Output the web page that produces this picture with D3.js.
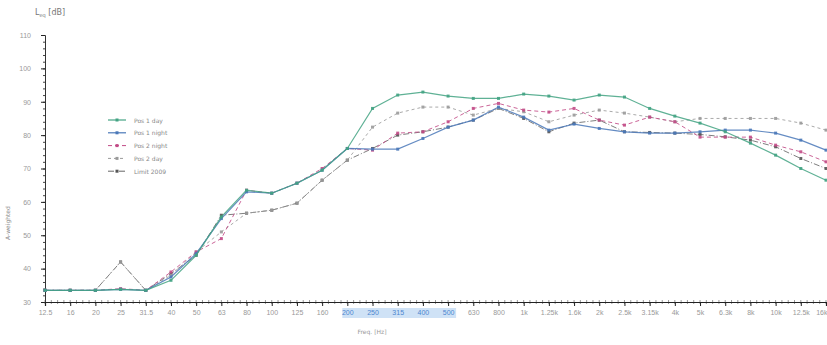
<!DOCTYPE html>
<html>
<head>
<meta charset="utf-8">
<script src="https://cdn.jsdelivr.net/npm/d3@7"></script>
<style>
  body { margin: 0; background: #fff; }
  svg { display: block; font-family: "DejaVu Sans", sans-serif; }
</style>
</head>
<body>
<div id="chart"></div>
<script>
// third-octave bands and their tick labels
const bands = ["12.5","16","20","25","31.5","40","50","63","80","100","125","160","200","250","315","400","500","630","800","1k","1.25k","1.6k","2k","2.5k","3.15k","4k","5k","6.3k","8k","10k","12.5k","16k"];
const highlightedBands = ["200","250","315","400","500"];
const yTicks = [30, 40, 50, 60, 70, 80, 90, 100, 110];

// levels in dB
const pos1Day   = [33.5,33.5,33.5,33.8,33.5,36.5,44,55.5,63.5,62.6,65.6,69.5,76,88,92,92.9,91.7,91,91,92.3,91.7,90.5,92,91.4,88,85.7,83.6,81,77.6,74,70,66.5];
const pos1Night = [33.5,33.5,33.5,33.8,33.5,37.5,44.5,55,63,62.6,65.6,69.5,76,75.8,75.8,79,82.4,84.5,88.4,85.4,81.5,83.3,82,81,80.6,80.6,81,81.5,81.5,80.6,78.5,75.5];
const pos2Night = [33.5,33.5,33.5,34,33.5,39,45,49,63.5,62.6,65.6,70,76,75.5,80.6,81,84,88,89.5,87.5,86.9,88,84.5,83,85.4,84,79.4,79.4,79.4,77,75,72];
const pos2Day   = [33.5,33.5,33.5,42,33.5,38,45,51,56.6,57.5,59.6,66.5,72.5,82.4,86.6,88.4,88.4,86,88,87,84,86,87.5,86.6,85.4,84,85,85,85,85,83.6,81.5];
const limit2009 = [33.5,33.5,33.5,42,33.5,38.5,44,56,56.6,57.5,59.6,66.5,72.5,76,80,81,82.4,84.5,88,85,81,83.6,84.5,81,80.8,80.6,80.2,79.5,78.5,76.5,73,70];

const seriesNames = ["Pos 1 day", "Pos 1 night", "Pos 2 night", "Pos 2 day", "Limit 2009"];

const width = 827, height = 345;
const svg = d3.select("#chart").append("svg")
  .attr("width", width)
  .attr("height", height);

const x = d3.scalePoint().domain(bands).range([45, 826]);
const y = d3.scaleLinear().domain([30, 110]).range([302, 35]);

// axis title
svg.append("text")
  .attr("x", 35).attr("y", 15)
  .attr("font-size", 8).attr("fill", "#777")
  .call(t => {
    t.append("tspan").text("L");
    t.append("tspan").attr("font-size", 5).attr("dy", 2).text("eq");
    t.append("tspan").attr("dy", -2).text(" [dB]");
  });

svg.append("text")
  .attr("transform", "translate(10,240) rotate(-90)")
  .attr("font-size", 6).attr("fill", "#888")
  .text("A-weighted");

// y axis with minor ticks
const yMinor = d3.range(30, 111, 2);
svg.append("g")
  .attr("transform", "translate(45,0)")
  .call(d3.axisLeft(y).tickValues(yMinor).tickSize(2).tickFormat(""))
  .call(g => g.select(".domain").attr("stroke", "#333"))
  .call(g => g.selectAll(".tick line").attr("stroke", "#444"));

svg.append("g")
  .attr("transform", "translate(45,0)")
  .call(d3.axisLeft(y).tickValues(yTicks).tickSize(4).tickPadding(10))
  .call(g => g.select(".domain").remove())
  .call(g => g.selectAll(".tick line").attr("stroke", "#222"))
  .call(g => g.selectAll(".tick text").attr("fill", "#999").attr("font-size", 7));

// highlighted tick labels
const hx0 = x(highlightedBands[0]) - 5, hx1 = x(highlightedBands[highlightedBands.length - 1]) + 8;
svg.append("rect")
  .attr("x", hx0).attr("y", 308)
  .attr("width", hx1 - hx0).attr("height", 10)
  .attr("fill", "#cfe2f6");

// x axis with minor ticks
const step = x.step();
const xMinor = d3.range(45, 827, step / 4);
svg.append("g")
  .selectAll("line").data(xMinor).join("line")
  .attr("x1", d => d).attr("x2", d => d)
  .attr("y1", 300).attr("y2", 304)
  .attr("stroke", "#555").attr("stroke-width", 0.6);

svg.append("g")
  .attr("transform", "translate(0,302)")
  .call(d3.axisBottom(x).tickSize(4).tickPadding(4))
  .call(g => g.select(".domain").attr("stroke", "#222").attr("stroke-width", 1.2))
  .call(g => g.selectAll(".tick line").attr("stroke", "#222"))
  .call(g => g.selectAll(".tick text")
    .attr("font-size", 7)
    .attr("fill", d => highlightedBands.includes(d) ? "#4d86cf" : "#999")
    .attr("text-anchor", d => d === bands[bands.length - 1] ? "end" : "middle")
    .attr("dx", d => d === bands[bands.length - 1] ? 1 : 0));

svg.append("text")
  .attr("x", 372).attr("y", 334)
  .attr("font-size", 6).attr("fill", "#999")
  .attr("text-anchor", "middle")
  .text("Freq.  [Hz]");

// series
const series = [
  { name: seriesNames[0], values: pos1Day,   color: "#43a383", dash: null,      width: 1.2 },
  { name: seriesNames[1], values: pos1Night, color: "#4a78b8", dash: null,      width: 1.2 },
  { name: seriesNames[2], values: pos2Night, color: "#c24a86", dash: "4,3",     width: 1 },
  { name: seriesNames[3], values: pos2Day,   color: "#9a9a9a", dash: "3,3",     width: 1 },
  { name: seriesNames[4], values: limit2009, color: "#555",    dash: "6,2,1,2", width: 0.9 }
];

const line = d3.line()
  .x((d, i) => x(bands[i]))
  .y(d => y(d));

const g = svg.append("g");
series.slice().reverse().forEach(s => {
  g.append("path")
    .datum(s.values)
    .attr("fill", "none")
    .attr("stroke", s.color)
    .attr("stroke-width", s.width)
    .attr("stroke-dasharray", s.dash)
    .attr("opacity", 0.85)
    .attr("d", line);

  g.selectAll(null)
    .data(s.values)
    .join("rect")
    .attr("x", (d, i) => x(bands[i]) - 1.5)
    .attr("y", d => y(d) - 1.5)
    .attr("width", 3).attr("height", 3)
    .attr("fill", s.color)
    .attr("opacity", 0.9);
});

// legend
const legend = svg.append("g").attr("transform", "translate(108,120)");
series.forEach((s, i) => {
  const row = legend.append("g").attr("transform", `translate(0,${i * 12.8})`);
  row.append("line")
    .attr("x1", 0).attr("x2", 18)
    .attr("stroke", s.color).attr("stroke-width", s.width)
    .attr("stroke-dasharray", s.dash);
  row.append("rect")
    .attr("x", 7.5).attr("y", -1.5).attr("width", 3).attr("height", 3)
    .attr("fill", s.color);
  row.append("text")
    .attr("x", 26).attr("y", 2.5)
    .attr("font-size", 6).attr("fill", "#888")
    .text(s.name);
});
</script>
</body>
</html>
